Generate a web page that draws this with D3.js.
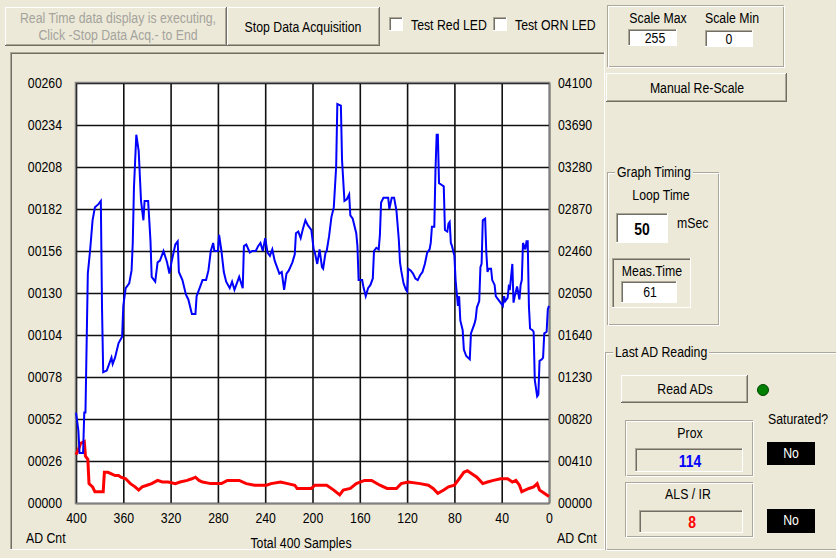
<!DOCTYPE html>
<html>
<head>
<meta charset="utf-8">
<script src="https://cdn.jsdelivr.net/npm/d3@7"></script>
<style>
  body { margin: 0; background: #ECE9D8; }
  svg { display: block; font-family: "Liberation Sans", Arial, sans-serif; font-size: 15px; }
</style>
</head>
<body>
<svg id="win" width="836" height="558"></svg>
<script>
'use strict';

// tick labels of the graph
var xTicks = [400, 360, 320, 280, 240, 200, 160, 120, 80, 40, 0];
var leftTicks = [0, 26, 52, 78, 104, 130, 156, 182, 208, 234, 260];
var rightTicks = [0, 410, 820, 1230, 1640, 2050, 2460, 2870, 3280, 3690, 4100];

// [sample, AD count], sample 400 = oldest
var proxTrace = [[400,56],[398,45],[397,31],[394,31],[393,56],[392,56],[391,99],[390,142],[388,157],[386,175],[384,183],[381,185],[379,187],[378,121],[377,81],[374,82],[370,90],[369,86],[367,90],[364,99],[361,103],[360,122],[358,133],[355,136],[353,144],[352,161],[351,195],[349,228],[347,218],[345,187],[343,175],[342,187],[339,187],[337,162],[336,140],[333,137],[331,149],[329,150],[326,156],[323,149],[321,142],[319,150],[316,160],[314,162],[313,143],[310,138],[307,129],[305,126],[302,117],[299,117],[298,128],[295,134],
  [293,138],[290,138],[288,144],[286,156],[284,161],[283,156],[280,156],[279,166],[277,156],[275,143],[273,137],[270,133],[268,137],[266,132],[264,136],[262,140],[259,133],[258,159],[256,160],[253,155],[251,156],[248,156],[246,159],[244,161],[242,156],[240,164],[238,155],[236,153],[234,157],[232,150],[229,144],[228,142],[226,143],[224,132],[222,142],[220,144],[217,149],[215,154],[214,167],[212,168],[210,164],[208,170],[206,175],[204,172],[201,169],[199,157],[198,155],[196,148],[194,157],[192,146],[191,145],
  [189,155],[188,156],[186,165],[184,177],[182,183],[180,208],[179,247],[176,246],[175,212],[173,187],[171,188],[169,191],[168,178],[166,176],[163,167],[162,159],[161,138],[158,138],[157,134],[155,128],[153,133],[151,135],[149,139],[148,156],[146,158],[144,157],[143,166],[142,186],[140,189],[136,189],[135,182],[133,189],[131,189],[129,181],[127,163],[126,149],[125,144],[123,136],[121,132],[120,131],[119,145],[117,144],[115,142],[113,139],[111,138],[109,141],[107,143],[105,148],[103,155],[101,157],[100,161],[99,171],[97,171],[96,206],[95,228],[94,228],[93,198],[91,197],[89,196],[88,169],[86,168],
  [85,173],[84,174],[83,161],[82,159],[80,153],[79,138],[78,130],[77,122],[76,128],[75,113],[73,107],[72,95],[70,91],[67,89],[66,105],[63,111],[62,114],[61,121],[59,125],[58,146],[57,148],[56,175],[54,176],[53,155],[52,143],[51,145],[49,145],[48,138],[46,135],[45,128],[44,127],[41,124],[39,122],[38,128],[37,125],[35,127],[34,134],[33,133],[31,148],[30,124],[29,128],[27,134],[25,126],[24,135],[23,138],[22,161],[20,157],[19,162],[18,162],[17,122],[16,108],[14,107],[13,106],[12,76],[10,66],[9,67],[8,88],[6,89],[5,90],[4,105],[2,106],[1,120],[0,122]];

var alsTrace = [[400,30],[398,33],[396,37],[393,38],[392,29],[390,27],[389,12],[386,10],[384,7],[377,7],[376,19],[373,19],[370,18],[367,17],[364,17],[362,16],[358,15],[354,12],[350,10],[347,8],[344,10],[340,11],[336,12],[331,14],[327,13],[322,13],[316,12],[312,13],[306,14],[302,15],[299,16],[296,14],[293,13],[286,12],[277,12],[272,14],[262,14],[256,12],[249,11],[239,11],[235,12],[227,13],[221,12],[215,11],[213,9],[201,9],[198,11],[190,11],[188,11],[182,8],[177,5],[174,8],[168,9],[163,12],[156,14],[150,14],[143,11],[137,9],[129,9],[125,12],[119,13],[109,12],[102,11],[98,9],[94,6],[89,8],[85,10],[80,11],[76,15],[72,19],[69,20],[65,18],[61,16],[56,12],[52,13],[47,14],[41,15],[35,15],[31,13],[28,14],[25,11],[23,7],[17,9],[13,10],[10,12],[8,8],[4,6],[0,4]];

var svg = d3.select('#win');
var BG = '#ECE9D8', HI = '#FFFFFF', SH = '#ACA899', DK = '#716F64';
var NARROW = 0.82;   // old MS Sans Serif look, narrower than Liberation Sans

function ln(g, x1, y1, x2, y2, c, w) {
  g.append('line').attr('x1', x1).attr('y1', y1).attr('x2', x2).attr('y2', y2)
    .attr('stroke', c).attr('stroke-width', w || 1);
}
function txt(t, x, y, anchor, opts) {
  opts = opts || {};
  return svg.append('text').text(t)
    .attr('transform', 'translate(' + x + ',' + y + ') scale(' + NARROW + ',1)')
    .attr('text-anchor', anchor || 'middle').attr('dominant-baseline', 'central')
    .attr('fill', opts.fill || '#000')
    .attr('font-weight', opts.bold ? 'bold' : null)
    .attr('font-size', opts.size || null);
}
function raised(x, y, w, h) {
  var g = svg.append('g');
  g.append('rect').attr('x', x).attr('y', y).attr('width', w).attr('height', h).attr('fill', BG);
  ln(g, x, y + .5, x + w, y + .5, HI); ln(g, x + .5, y, x + .5, y + h, HI);
  ln(g, x, y + h - .5, x + w, y + h - .5, DK); ln(g, x + w - .5, y, x + w - .5, y + h, DK);
  ln(g, x + 1, y + h - 1.5, x + w - 1, y + h - 1.5, SH); ln(g, x + w - 1.5, y + 1, x + w - 1.5, y + h - 1, SH);
}
function sunken(x, y, w, h, fill) {
  var g = svg.append('g');
  g.append('rect').attr('x', x).attr('y', y).attr('width', w).attr('height', h).attr('fill', fill || BG);
  ln(g, x, y + .5, x + w, y + .5, SH); ln(g, x + .5, y, x + .5, y + h, SH);
  ln(g, x + 1, y + 1.5, x + w - 1, y + 1.5, DK); ln(g, x + 1.5, y + 1, x + 1.5, y + h - 1, DK);
  ln(g, x, y + h - .5, x + w, y + h - .5, HI); ln(g, x + w - .5, y, x + w - .5, y + h, HI);
}
function etched(x, y, w, h, legend) {
  svg.append('rect').attr('x', x + .5).attr('y', y + .5).attr('width', w - 1).attr('height', h - 1)
    .attr('fill', 'none').attr('stroke', SH);
  svg.append('rect').attr('x', x + 1.5).attr('y', y + 1.5).attr('width', w - 1).attr('height', h - 1)
    .attr('fill', 'none').attr('stroke', HI);
  if (legend) {
    var t = txt(legend, x + 10, y, 'start');
    var bw = t.node().getBBox().width * NARROW;
    svg.insert('rect', function () { return t.node(); })
      .attr('x', x + 8).attr('y', y - 2).attr('width', bw + 4).attr('height', 6).attr('fill', BG);
  }
}

// ---- top row ----
raised(5, 7, 222, 39);
txt('Real Time data display is executing,', 118, 18, 'middle', {fill: '#A4A39C'});
txt('Click -Stop Data Acq.- to End', 118, 35, 'middle', {fill: '#A4A39C'});
raised(227, 7, 153, 39);
txt('Stop Data Acquisition', 303, 27);
sunken(389, 17, 14, 14, '#fff');
txt('Test Red LED', 411, 25, 'start');
sunken(493, 17, 14, 14, '#fff');
txt('Test ORN LED', 515, 25, 'start');

// ---- graph panel ----
sunken(10, 52, 595, 498);

var x = d3.scaleLinear().domain([400, 0]).range([76, 549]);
var yL = d3.scaleLinear().domain([0, 260]).range([503, 83]);
var yR = d3.scaleLinear().domain([0, 4100]).range([503, 83]);

var plot = svg.append('g');
plot.append('rect').attr('x', 76).attr('y', 83).attr('width', 473).attr('height', 420).attr('fill', '#fff');

plot.append('g').attr('transform', 'translate(0,503)')
  .call(d3.axisBottom(x).tickValues(xTicks).tickSize(-420).tickFormat(''))
  .call(function (g) { g.select('.domain').remove(); })
  .selectAll('line').attr('stroke', '#111').attr('stroke-width', 1.6);
plot.append('g').attr('transform', 'translate(76,0)')
  .call(d3.axisLeft(yL).tickValues(leftTicks).tickSize(-473).tickFormat(''))
  .call(function (g) { g.select('.domain').remove(); })
  .selectAll('line').attr('stroke', '#111').attr('stroke-width', 1.6);
plot.append('rect').attr('x', 75.5).attr('y', 82.5).attr('width', 474).attr('height', 421)
  .attr('fill', 'none').attr('stroke', '#808080').attr('stroke-width', 1.5);

var lineFn = d3.line().x(function (d) { return x(d[0]); }).y(function (d) { return yL(d[1]); });
plot.append('path').datum(alsTrace).attr('d', lineFn)
  .attr('fill', 'none').attr('stroke', '#FF0000').attr('stroke-width', 3);
plot.append('path').datum(proxTrace).attr('d', lineFn)
  .attr('fill', 'none').attr('stroke', '#0000FF').attr('stroke-width', 2);

var fmt = d3.format('05d');
var axL = svg.append('g').attr('transform', 'translate(62,0)')
  .call(d3.axisLeft(yL).tickValues(leftTicks).tickSize(0).tickPadding(0).tickFormat(fmt));
var axR = svg.append('g').attr('transform', 'translate(558,0)')
  .call(d3.axisRight(yR).tickValues(rightTicks).tickSize(0).tickPadding(0).tickFormat(fmt));
var axB = svg.append('g').attr('transform', 'translate(0,518)')
  .call(d3.axisBottom(x).tickValues(xTicks).tickSize(0).tickPadding(0));
[axL, axR, axB].forEach(function (a) {
  a.attr('font-family', null).attr('font-size', null);
  a.select('.domain').remove();
  a.selectAll('text').attr('fill', '#000').attr('x', 0).attr('y', 0).attr('dy', null)
    .attr('dominant-baseline', 'central').attr('transform', 'scale(' + NARROW + ',1)');
});

txt('AD Cnt', 26, 538, 'start');
txt('Total 400 Samples', 301, 543);
txt('AD Cnt', 557, 538, 'start');

// ---- right side controls ----
etched(607, 5, 177, 62);
txt('Scale Max', 658, 18);
txt('Scale Min', 732, 18);
sunken(628, 29, 49, 17, '#fff');
txt('255', 655, 38);
sunken(705, 30, 48, 17, '#fff');
txt('0', 729, 39);

raised(606, 73, 181, 29);
txt('Manual Re-Scale', 697, 88);

etched(607, 172, 112, 153, 'Graph Timing');
txt('Loop Time', 661, 195);
sunken(616, 213, 52, 30, '#fff');
txt('50', 642, 229, 'middle', {bold: true, size: '17px'});
txt('mSec', 677, 223, 'start');
sunken(612, 258, 79, 50);
txt('Meas.Time', 652, 271);
sunken(621, 281, 56, 22, '#fff');
txt('61', 650, 292);

etched(605, 352, 240, 198, 'Last AD Reading');
raised(621, 375, 127, 28);
txt('Read ADs', 685, 389);
svg.append('circle').attr('cx', 763).attr('cy', 390).attr('r', 5.5)
  .attr('fill', '#008000').attr('stroke', '#004400');
txt('Saturated?', 798, 419);

etched(625, 420, 128, 56);
txt('Prox', 690, 433);
sunken(635, 448, 108, 24);
txt('114', 690, 461, 'middle', {bold: true, fill: '#0000FF', size: '17px'});

etched(625, 482, 128, 55);
txt('ALS / IR', 688, 494);
sunken(639, 510, 104, 23);
txt('8', 692, 522, 'middle', {bold: true, fill: '#FF0000', size: '17px'});

svg.append('rect').attr('x', 767).attr('y', 442).attr('width', 48).attr('height', 23).attr('fill', '#000');
txt('No', 791, 453, 'middle', {fill: '#fff'});
svg.append('rect').attr('x', 767).attr('y', 509).attr('width', 48).attr('height', 24).attr('fill', '#000');
txt('No', 791, 520, 'middle', {fill: '#fff'});
</script>
</body>
</html>
